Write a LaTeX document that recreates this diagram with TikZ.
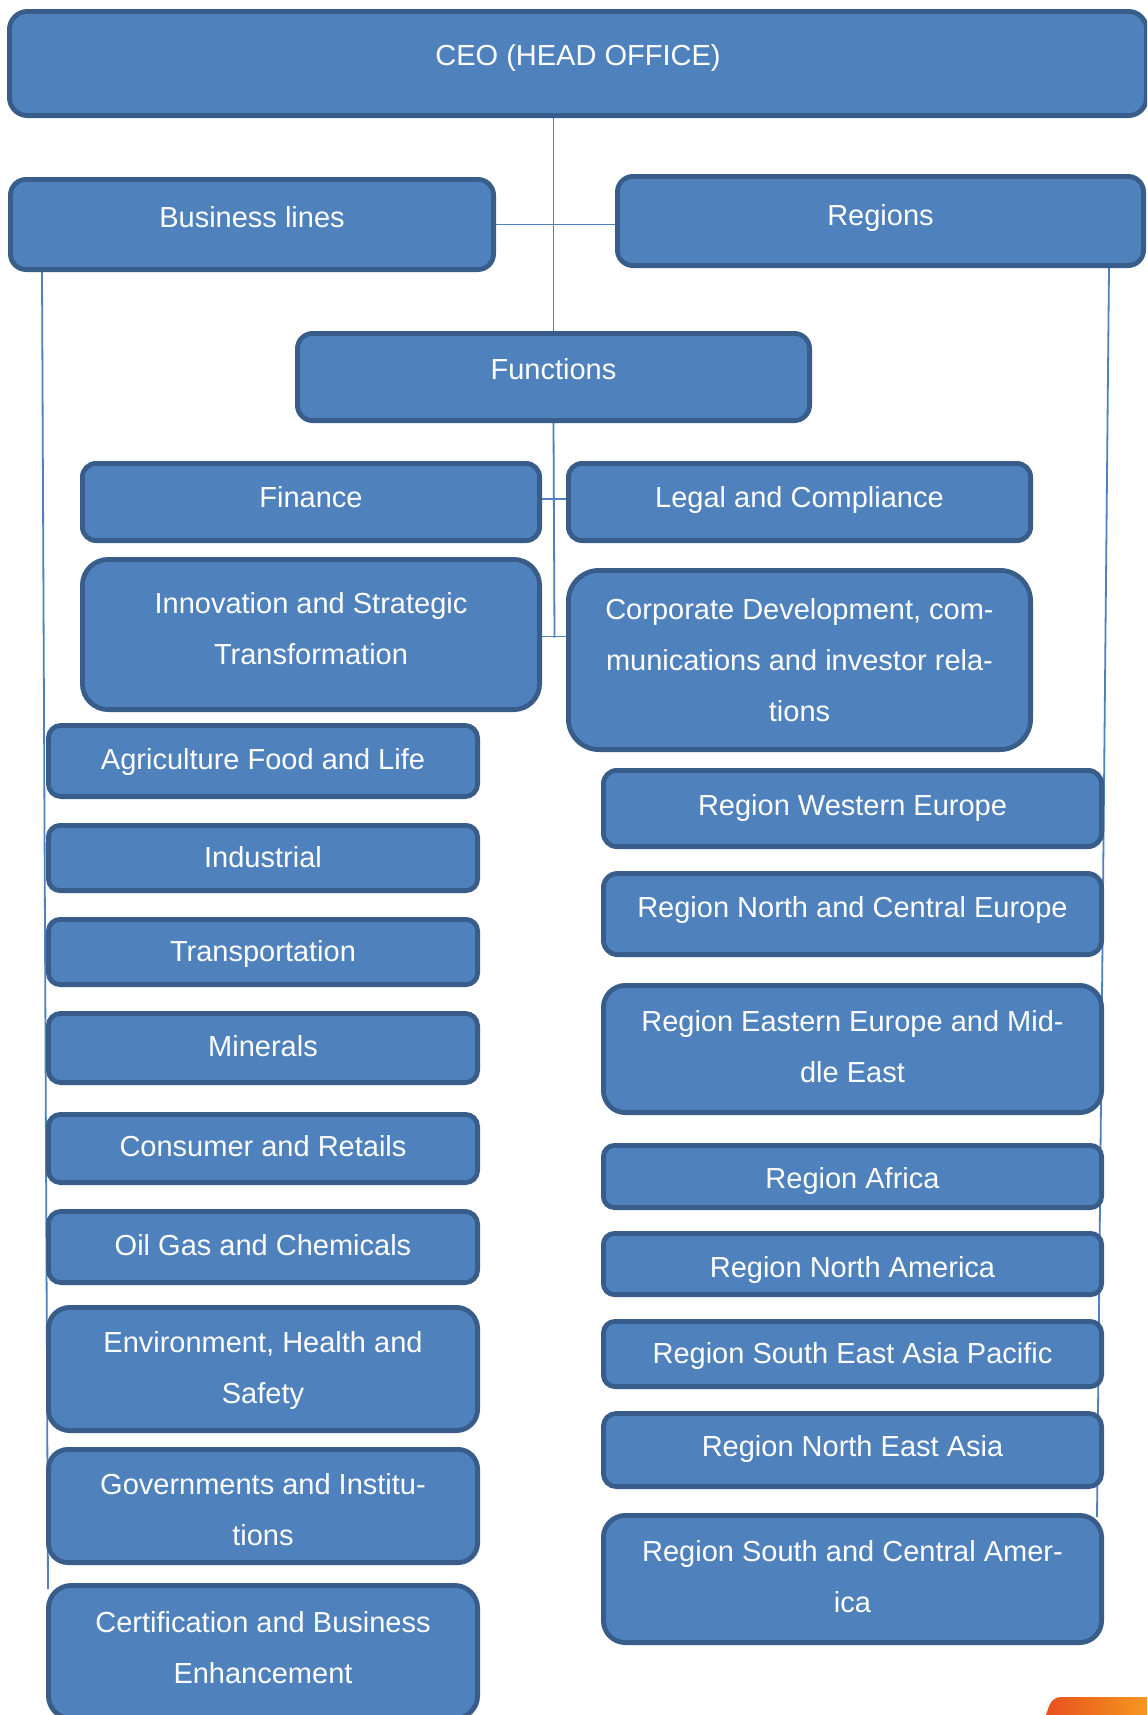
\documentclass[tikz,border=0pt]{standalone}
\usepackage{fontspec}
\setmainfont{Liberation Sans}
\usetikzlibrary{calc,backgrounds}

\definecolor{boxfill}{HTML}{4F81BD}
\definecolor{boxline}{HTML}{395D8B}
\definecolor{linkblue}{HTML}{4F81BD}
\definecolor{flameA}{HTML}{E8501E}
\definecolor{flameB}{HTML}{F59A1F}

% rounded box from its outer corners (x1,y1) to (x2,y2), in pixel units
\newcommand\orgbox[5]{%
  \pgfmathsetmacro\orgW{(#4-#2-4.8)*0.5}%
  \pgfmathsetmacro\orgH{(#5-#3-4.8)*0.5}%
  \pgfmathsetmacro\orgR{(#5-#3)/12}%
  \node[orgbox, minimum width=\orgW pt, minimum height=\orgH pt,
        rounded corners=\orgR pt] (#1) at ({(#2+#4)/2},{(#3+#5)/2}) {};%
}
% one line of box text, centred on the box, given the height of its capitals' middle
\newcommand\orgtext[4]{%
  \pgfmathsetmacro\orgY{#3+10.4}%
  \node[orglabel] (#1) at (#2.center |- 0,\orgY) {#4};%
}

\tikzset{
  orgbox/.style={draw=boxline, fill=boxfill, line width=2.4pt, inner sep=0pt},
  orglabel/.style={text=white, font=\fontsize{14.5pt}{17pt}\selectfont,
                   anchor=base, inner sep=0pt},
  conn/.style={draw=linkblue, line width=0.9pt},
}

\begin{document}
\begin{tikzpicture}[x=0.5pt, y=-0.5pt]
\useasboundingbox (0,0) rectangle (1147,1715);
\clip (0,0) rectangle (1147,1715);

% top level
\orgbox{ceo}{7}{9}{1149}{118}
\orgbox{bl}{8}{177}{496}{272}
\orgbox{rg}{615}{174}{1146}{268}
\orgbox{func}{295}{331}{812}{423}

% functions
\orgbox{fin}{80}{461}{542}{543}
\orgbox{lc}{566}{461}{1033}{543}
\orgbox{inno}{80}{557}{542}{712}
\orgbox{cd}{566}{568}{1033}{752}

% business lines
\orgbox{agri}{46}{723}{480}{799}
\orgbox{ind}{46}{823}{480}{893}
\orgbox{trans}{46}{917}{480}{987}
\orgbox{min}{46}{1011}{480}{1085}
\orgbox{cons}{46}{1112}{480}{1185}
\orgbox{oil}{46}{1209}{480}{1285}
\orgbox{env}{46}{1305}{480}{1433}
\orgbox{gov}{46}{1447}{480}{1565}
\orgbox{cert}{46}{1583}{480}{1721}

% regions
\orgbox{we}{601}{768}{1104}{849}
\orgbox{nce}{601}{871}{1104}{957}
\orgbox{eeme}{601}{983}{1104}{1115}
\orgbox{afr}{601}{1143}{1104}{1210}
\orgbox{na}{601}{1231}{1104}{1297}
\orgbox{seap}{601}{1319}{1104}{1389}
\orgbox{nea}{601}{1411}{1104}{1489}
\orgbox{sca}{601}{1513}{1104}{1645}

% labels
\orgtext{ceoT}{ceo}{55.5}{CEO (HEAD OFFICE)}
\orgtext{blT}{bl}{217}{Business lines}
\orgtext{rgT}{rg}{215}{Regions}
\orgtext{funcT}{func}{369.5}{Functions}
\orgtext{finT}{fin}{497}{Finance}
\orgtext{lcT}{lc}{497}{Legal and Compliance}
\orgtext{innoTa}{inno}{603}{Innovation and Strategic}
\orgtext{innoTb}{inno}{654}{Transformation}
\orgtext{cdTa}{cd}{609}{Corporate Development, com-}
\orgtext{cdTb}{cd}{660}{munications and investor rela-}
\orgtext{cdTc}{cd}{711}{tions}

\orgtext{agriT}{agri}{759}{Agriculture Food and Life}
\orgtext{indT}{ind}{857.5}{Industrial}
\orgtext{transT}{trans}{951.5}{Transportation}
\orgtext{minT}{min}{1046}{Minerals}
\orgtext{consT}{cons}{1146}{Consumer and Retails}
\orgtext{oilT}{oil}{1245}{Oil Gas and Chemicals}
\orgtext{envTa}{env}{1342.5}{Environment, Health and}
\orgtext{envTb}{env}{1393.5}{Safety}
\orgtext{govTa}{gov}{1484}{Governments and Institu-}
\orgtext{govTb}{gov}{1535}{tions}
\orgtext{certTa}{cert}{1622}{Certification and Business}
\orgtext{certTb}{cert}{1673}{Enhancement}

\orgtext{weT}{we}{805.5}{Region Western Europe}
\orgtext{nceT}{nce}{907}{Region North and Central Europe}
\orgtext{eemeTa}{eeme}{1021}{Region Eastern Europe and Mid-}
\orgtext{eemeTb}{eeme}{1072}{dle East}
\orgtext{afrT}{afr}{1178}{Region Africa}
\orgtext{naT}{na}{1267}{Region North America}
\orgtext{seapT}{seap}{1353.5}{Region South East Asia Pacific}
\orgtext{neaT}{nea}{1446.5}{Region North East Asia}
\orgtext{scaTa}{sca}{1551.5}{Region South and Central Amer-}
\orgtext{scaTb}{sca}{1602}{ica}

% connectors, behind the boxes
\begin{pgfonlayer}{background}
  \fill[white] (0,0) rectangle (1147,1715);
  \draw[conn] (ceo.south -| func.north) -- (func.north);
  \draw[conn] (bl.east) -- (bl.east -| rg.west);
  \draw[conn] (func.south) -- ($(inno.east -| func.south)+(1,3)$);
  \draw[conn] ([yshift=1.5pt]fin.east) -- ([yshift=1.5pt]fin.east -| lc.west);
  \draw[conn] ([yshift=-1pt]inno.east) -- ([yshift=-1pt]inno.east -| cd.west);
  \draw[conn] ($(bl.south west)+(34,0)$) -- ($(cert.north west)+(2,6)$);
  \draw[conn] ($(rg.south east)+(-37,0)$) -- ($(sca.north east)+(-7,4)$);
\end{pgfonlayer}

% corner accent
\shade[left color=flameA, right color=flameB]
  (1046,1716) .. controls (1049,1704) and (1052,1697) .. (1062,1697)
  -- (1150,1697) -- (1150,1716) -- cycle;
\end{tikzpicture}
\end{document}
